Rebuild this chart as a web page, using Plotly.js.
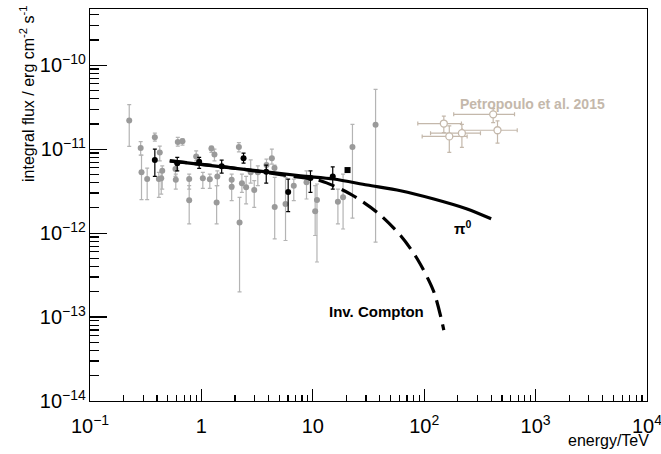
<!DOCTYPE html>
<html>
<head>
<meta charset="utf-8">
<script src="https://cdn.plot.ly/plotly-3.0.1.min.js"></script>
<style>html,body{margin:0;padding:0;background:#fff;}#plot{width:661px;height:454px;}</style>
</head>
<body>
<div id="plot"></div>
<script>
// Gray data points (energy in TeV, integral flux in erg cm^-2 s^-1)
var grayEnergy = [0.225,0.285,0.29,0.382,0.326,0.423,0.445,0.415,0.436,0.614,0.676,0.585,0.589,0.777,0.777,0.898,1.03,1.19,1.23,1.31,1.39,1.37,1.87,1.87,2.17,2.20,2.31,2.52,2.77,2.98,3.21,3.84,4.29,4.53,4.55,5.69,6.75,8.78,10.5,10.9,16.8,18.7,22.7,36.6];
var grayFlux = [2.19e-11,1.03e-11,5.30e-12,1.39e-11,4.41e-12,9.14e-12,5.53e-12,4.41e-12,4.49e-12,1.22e-11,1.24e-11,5.79e-12,4.32e-12,4.41e-12,2.46e-12,8.19e-12,4.49e-12,4.37e-12,1.02e-11,8.65e-12,4.74e-12,2.31e-12,4.32e-12,3.57e-12,1.06e-11,1.34e-12,3.92e-12,3.51e-12,5.30e-12,3.26e-12,5.30e-12,6.46e-12,7.81e-12,5.96e-12,2.05e-12,2.23e-12,3.67e-12,4.03e-12,1.82e-12,2.48e-12,2.37e-12,2.67e-12,1.06e-11,1.96e-11];
var grayFluxHigh = [3.39e-11,1.23e-11,8.49e-12,1.55e-11,5.96e-12,1.09e-11,6.34e-12,5.30e-12,5.35e-12,1.38e-11,1.34e-11,6.82e-12,5.05e-12,5.05e-12,3.67e-12,9.55e-12,5.30e-12,5.05e-12,1.09e-11,1.00e-11,5.53e-12,3.67e-12,5.05e-12,4.21e-12,1.20e-11,2.67e-12,5.05e-12,4.74e-12,7.47e-12,4.21e-12,6.34e-12,7.61e-12,1.00e-11,6.46e-12,4.62e-12,4.62e-12,4.41e-12,5.53e-12,3.67e-12,3.85e-12,3.35e-12,5.05e-12,1.98e-11,5.15e-11];
var grayFluxLow = [1.08e-11,8.49e-12,2.51e-12,1.25e-11,2.51e-12,7.27e-12,3.35e-12,2.67e-12,2.92e-12,1.09e-11,1.115e-11,4.74e-12,3.35e-12,3.35e-12,1.29e-12,7.27e-12,3.42e-12,3.42e-12,9.14e-12,7.27e-12,3.67e-12,1.29e-12,3.35e-12,2.44e-12,9.29e-12,2.0e-13,3.06e-12,2.23e-12,3.95e-12,2.03e-12,3.67e-12,5.53e-12,6.64e-12,5.30e-12,8.55e-13,8.17e-13,2.44e-12,2.55e-12,9.37e-13,4.53e-13,1.29e-12,1.12e-12,1.51e-12,7.82e-13];

// Black data points
var blackEnergy = [0.382,0.607,0.955,1.52,2.39,3.82,6.01,9.53,15.1];
var blackFlux = [7.41e-12,6.82e-12,7.07e-12,6.24e-12,7.81e-12,5.38e-12,3.09e-12,4.53e-12,4.74e-12];
var blackFluxHigh = [1.0e-11,7.97e-12,7.97e-12,7.41e-12,8.97e-12,6.46e-12,4.41e-12,5.53e-12,6.17e-12];
var blackFluxLow = [4.74e-12,5.53e-12,5.90e-12,5.19e-12,6.82e-12,3.95e-12,1.80e-12,3.05e-12,3.35e-12];

// Black square point
var squareEnergy = [20.5];
var squareFlux = [5.64e-12];

// Petropoulo et al. 2015
var petroEnergy = [150,416,218,168,455];
var petroEnergyLow = [87.6,184,114,95.9,219];
var petroEnergyHigh = [216,647,320,243,684];
var petroFlux = [2.02e-11,2.60e-11,1.55e-11,1.42e-11,1.68e-11];
var petroFluxHigh = [2.48e-11,3.04e-11,1.98e-11,1.89e-11,2.17e-11];
var petroFluxLow = [1.58e-11,2.07e-11,1.05e-11,9.14e-12,1.18e-11];

// Model curves
var pi0Energy = [0.52,2.02,7.76,15.4,30.8,61.3,122,243,399];
var pi0Flux = [7.27e-12,5.92e-12,4.82e-12,4.41e-12,3.74e-12,3.20e-12,2.55e-12,1.94e-12,1.48e-12];
var icEnergy = [0.52,2.02,5.93,11.7,21.8,37.8,61.3,86.5,122,150];
var icFlux = [7.27e-12,5.92e-12,4.85e-12,4.21e-12,2.92e-12,1.77e-12,9.36e-13,4.95e-13,2.0e-13,7.0e-14];

// Axis ticks (minor tick decades and multipliers)
var xDecades = [-1, 0, 1, 2, 3];
var yDecades = [-14, -13, -12, -11, -10];
var minorMultipliers = [2, 3, 4, 5, 6, 7, 8, 9];

// Labels
var xTitle = "energy/TeV";
var yTitle = "integral flux / erg cm<sup>-2</sup> s<sup>-1</sup>";
var petroLabel = "<b>Petropoulo et al. 2015</b>";
var pi0Label = "<b>π<sup>0</sup></b>";
var icLabel = "<b>Inv. Compton</b>";

function diff(a, b) { return a.map(function (v, i) { return v - b[i]; }); }
function minorVals(decades) {
  var out = [];
  decades.forEach(function (d) { minorMultipliers.forEach(function (m) { out.push(m * Math.pow(10, d)); }); });
  return out;
}

var FONT = "Liberation Sans, Arial, Helvetica, sans-serif";
var petroColor = "#c4b8ab";
var X_RANGE = [-1, 4];
var Y_RANGE = [-14, -9.33];
var TICKCOL = "#000000";
var TICKW = 1.2;

var traces = [
  {
    x: grayEnergy, y: grayFlux, type: "scatter", mode: "markers",
    marker: {color: "#9a9a9a", size: 6},
    error_y: {type: "data", symmetric: false, array: diff(grayFluxHigh, grayFlux), arrayminus: diff(grayFlux, grayFluxLow), color: "#b4b4b4", thickness: 1.2, width: 2},
    showlegend: false, hoverinfo: "skip"
  },
  {
    x: blackEnergy, y: blackFlux, type: "scatter", mode: "markers",
    marker: {color: "#000", size: 6},
    error_y: {type: "data", symmetric: false, array: diff(blackFluxHigh, blackFlux), arrayminus: diff(blackFlux, blackFluxLow), color: "#000", thickness: 1.2, width: 2},
    showlegend: false, hoverinfo: "skip"
  },
  {
    x: squareEnergy, y: squareFlux, type: "scatter", mode: "markers",
    marker: {color: "#000", size: 6, symbol: "square"},
    showlegend: false, hoverinfo: "skip"
  },
  {
    x: pi0Energy, y: pi0Flux, type: "scatter", mode: "lines",
    line: {color: "#000", width: 3.2, shape: "spline", smoothing: 0.8},
    showlegend: false, hoverinfo: "skip"
  },
  {
    x: icEnergy, y: icFlux, type: "scatter", mode: "lines",
    line: {color: "#000", width: 3.2, dash: "17px,8px", shape: "spline", smoothing: 0.8},
    showlegend: false, hoverinfo: "skip"
  },
  {
    x: petroEnergy, y: petroFlux, type: "scatter", mode: "markers",
    marker: {color: "#fff", size: 7, line: {color: petroColor, width: 1.3}},
    error_x: {type: "data", symmetric: false, array: diff(petroEnergyHigh, petroEnergy), arrayminus: diff(petroEnergy, petroEnergyLow), color: petroColor, thickness: 1.2, width: 2},
    error_y: {type: "data", symmetric: false, array: diff(petroFluxHigh, petroFlux), arrayminus: diff(petroFlux, petroFluxLow), color: petroColor, thickness: 1.2, width: 2},
    showlegend: false, hoverinfo: "skip"
  },
  {
    // invisible trace binding the minor-tick overlay axes
    x: [1], y: [1e-12], xaxis: "x2", yaxis: "y2", type: "scatter", mode: "markers",
    marker: {opacity: 0}, showlegend: false, hoverinfo: "skip"
  }
];

var layout = {
  width: 661, height: 454,
  margin: {l: 90, r: 14, t: 9, b: 53},
  paper_bgcolor: "#fff", plot_bgcolor: "#fff",
  font: {family: FONT, color: "#000", size: 16},
  showlegend: false,
  xaxis: {
    type: "log", range: X_RANGE, dtick: 1, exponentformat: "power",
    showgrid: false, zeroline: false,
    showline: true, linecolor: "#000", linewidth: 1, mirror: true,
    ticks: "inside", ticklen: 12, tickwidth: TICKW, tickcolor: TICKCOL,
    ticklabeloverflow: "allow", ticklabelstandoff: 8,
    tickfont: {family: FONT, size: 16}
  },
  yaxis: {
    type: "log", range: Y_RANGE, dtick: 1, exponentformat: "power",
    showgrid: false, zeroline: false,
    showline: true, linecolor: "#000", linewidth: 1, mirror: true,
    ticks: "inside", ticklen: 17, tickwidth: TICKW, tickcolor: TICKCOL,
    ticklabeloverflow: "allow",
    tickfont: {family: FONT, size: 16}
  },
  xaxis2: {
    type: "log", range: X_RANGE, overlaying: "x", anchor: "y", side: "bottom",
    tickmode: "array", tickvals: minorVals(xDecades), showticklabels: false,
    ticks: "inside", ticklen: 6, tickwidth: TICKW, tickcolor: TICKCOL,
    showgrid: false, zeroline: false, showline: false
  },
  yaxis2: {
    type: "log", range: Y_RANGE, overlaying: "y", anchor: "x", side: "left",
    tickmode: "array", tickvals: minorVals(yDecades), showticklabels: false,
    ticks: "inside", ticklen: 9, tickwidth: TICKW, tickcolor: TICKCOL,
    showgrid: false, zeroline: false, showline: false
  },
  annotations: [
    {text: yTitle, xref: "paper", yref: "paper", x: 0, y: 1, xanchor: "center", yanchor: "top",
     xshift: -63, yshift: 5, textangle: -90, showarrow: false, font: {family: FONT, size: 16}},
    {text: xTitle, xref: "paper", yref: "paper", x: 1, y: 0, xanchor: "right", yanchor: "middle",
     xshift: 4, yshift: -39, showarrow: false, font: {family: FONT, size: 16}},
    {text: petroLabel, xref: "x", yref: "y", x: Math.log10(203), y: Math.log10(3.49e-11), xanchor: "left", yanchor: "middle",
     showarrow: false, font: {family: FONT, size: 14, color: petroColor}},
    {text: pi0Label, xref: "x", yref: "y", x: Math.log10(221), y: Math.log10(1.16e-12), xanchor: "center", yanchor: "middle",
     showarrow: false, font: {family: FONT, size: 15}},
    {text: icLabel, xref: "x", yref: "y", x: Math.log10(37.3), y: Math.log10(1.18e-13), xanchor: "center", yanchor: "middle",
     showarrow: false, font: {family: FONT, size: 15}}
  ]
};

Plotly.newPlot("plot", traces, layout, {displayModeBar: false, staticPlot: true});
</script>
</body>
</html>
